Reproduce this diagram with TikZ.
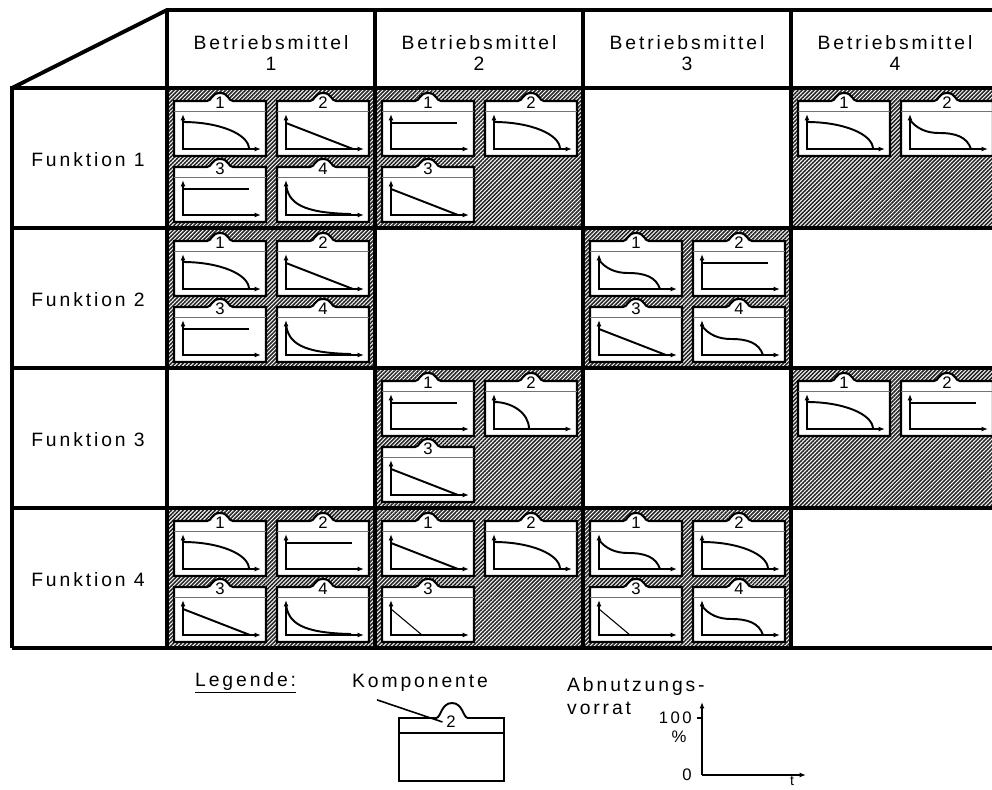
\documentclass[tikz,border=0pt]{standalone}
\usepackage{fontspec}
\setmainfont{Liberation Sans}[LetterSpace=15]
\usetikzlibrary{arrows.meta,patterns.meta}

% Verlaufsformen des Abnutzungsvorrats, in Kartenkoordinaten
\newcommand{\kurveA}{(9,21) .. controls (45,21) and (75,33) .. (75,48)}
\newcommand{\kurveB}{(9,22) -- (76,48)}
\newcommand{\kurveC}{(9,22) -- (75,22)}
\newcommand{\kurveD}{(9,17) .. controls (11,36) and (25,46) .. (74,47)}
\newcommand{\kurveE}{(9,19) .. controls (16,28) and (26,32) .. (38,32) .. controls (55,32) and (66,36) .. (70,48)}
\newcommand{\kurveF}{[line width=0.6pt] (9,22) -- (40,48)}
\newcommand{\kurveG}{(9,21) .. controls (27,21) and (44,32) .. (44,48)}

\begin{document}
\begin{tikzpicture}
  [ x=0.02cm, y=-0.02cm, >={Latex[length=3.6pt,width=2.8pt]}
  , gitter/.style={line width=2.2pt}
  , schraffur/.style={pattern={Lines[angle=45,distance=1.6pt,line width=0.9pt]}, pattern color=black!85}
  , rahmen/.style={draw, fill=white, line width=1.2pt}
  , kopflinie/.style={draw=black!55, line width=0.5pt}
  , nummer/.style={inner sep=0pt, font=\fontsize{9.5}{11}\selectfont}
  , wert/.style={inner sep=0pt, font=\fontsize{9.5}{11}\selectfont}
  , achse/.style={line width=1.6pt}
  , kurve/.style={line width=1.1pt}
  , kopf/.style={align=center, font=\fontsize{11}{11.5}\selectfont}
  , zeile/.style={font=\fontsize{11}{13}\selectfont}]
  \useasboundingbox (0,0) rectangle (992,789);
  \clip (0,0) rectangle (992,789);

  % belegte Felder
  \foreach \r/\c in {1/1,1/2,1/4,2/1,2/3,3/2,3/4,4/1,4/2,4/3}
    \fill[schraffur] (167+208*\c-208,88+140*\r-140) rectangle ++(208,140);

  % Komponenten: Zeile/Spalte/Nummer/Verlauf
  \foreach \r/\c/\k/\kurve in {1/1/1/A, 1/1/2/B, 1/1/3/C, 1/1/4/D,
                               1/2/1/C, 1/2/2/A, 1/2/3/B,
                               1/4/1/A, 1/4/2/E,
                               2/1/1/A, 2/1/2/B, 2/1/3/C, 2/1/4/D,
                               2/3/1/E, 2/3/2/C, 2/3/3/B, 2/3/4/E,
                               3/2/1/C, 3/2/2/G, 3/2/3/B,
                               3/4/1/A, 3/4/2/C,
                               4/1/1/A, 4/1/2/C, 4/1/3/B, 4/1/4/D,
                               4/2/1/B, 4/2/2/A, 4/2/3/F,
                               4/3/1/E, 4/3/2/A, 4/3/3/F, 4/3/4/E}
  {
    \pgfmathsetmacro\kx{167+208*(\c-1)+7+103*mod(\k+1,2)}
    \pgfmathsetmacro\ky{88+140*(\r-1)+13+66*(\k>2)}
    \begin{scope}[shift={(\kx,\ky)}]
      \draw[rahmen] (0,55) -- (0,0) -- (33,0) .. controls (38,0) and (37,-8) .. (46,-8)
        .. controls (55,-8) and (54,0) .. (59,0) -- (92,0) -- (92,55) -- cycle;
      \draw[kopflinie] (0,10) -- (92,10);
      \node[nummer] (nr-\r-\c-\k) at (46,2) {\k};
      \draw[achse, ->] (9,49) -- (9,13);
      \draw[achse, ->] (8,48) -- (87,48);
      \draw[kurve] \csname kurve\kurve\endcsname;
    \end{scope}
  }

  % Tabellengitter
  \draw[gitter] (12,88) -- (167,10) -- (999,10);
  \draw[gitter] (12,648) -- (12,88) -- (999,88);
  \foreach \r in {1,...,4}
    \draw[gitter] (12,88+140*\r) -- (999,88+140*\r);
  \foreach \c in {0,...,4}
    \draw[gitter] (167+208*\c,10) -- (167+208*\c,648);

  \foreach \c in {1,...,4}
    \node[kopf] (bm\c) at (271+208*\c-208,53) {Betriebsmittel\\\c};
  \foreach \r in {1,...,4}
    \node[zeile] (fkt\r) at (88,160+140*\r-140) {Funktion \r};

  % Legende
  \node[zeile, anchor=west] (legende) at (189,683) {\underline{Legende:}};
  \node[zeile] (komponente) at (420,683) {Komponente};
  \draw[line width=1.1pt] (399,781) -- (399,718) -- (436,718)
    .. controls (441,718) and (441,703) .. (452,703)
    .. controls (463,703) and (463,718) .. (468,718) -- (504,718) -- (504,781) -- cycle;
  \draw[line width=1.1pt] (399,733) -- (504,733);
  \node[nummer, inner sep=2pt] (nr-legende) at (451,722) {2};
  \draw[line width=0.9pt] (komponente.south) ++(-43,2) -- (nr-legende.west);

  \node[zeile, anchor=west, align=left] (vorrat) at (561,696) {Abnutzungs-\\vorrat};
  \coordinate (ursprung) at (702,775);
  \draw[achse, ->] (ursprung) -- (702,702);
  \draw[achse, ->] (ursprung) -- (806,775);
  \draw[line width=0.8pt] (697,718) -- (702,718);
  \node[wert, anchor=east] (hundert) at (692,718) {100};
  \node[wert] (prozent) at (679,737) {\%};
  \node[wert, anchor=east] (null) at (692,775) {0};
  \node[wert, font=\fontsize{8}{9}\selectfont, anchor=north] (zeit) at (792,776.5) {t};
\end{tikzpicture}
\end{document}
